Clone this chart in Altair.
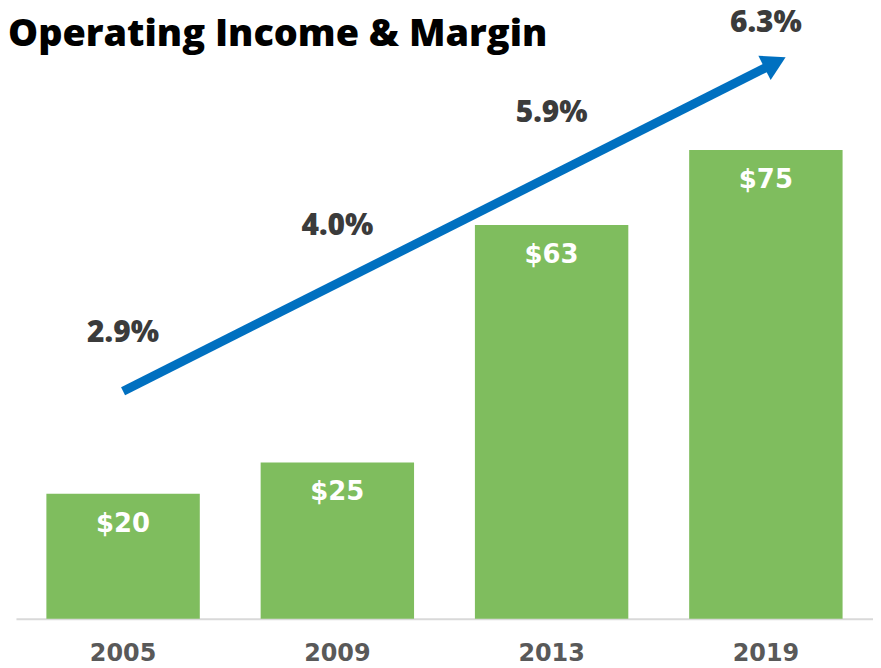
import altair as alt
import pandas as pd

# ---- data ----
years = ["2005", "2009", "2013", "2019"]
income = [20, 25, 63, 75]
income_labels = ["$20", "$25", "$63", "$75"]
margins = ["2.9%", "4.0%", "5.9%", "6.3%"]
margin_label_level = [45.7, 62.9, 81.0, 95.3]   # height (value units) of the margin labels
arrow_years = ["2005", "2019"]                    # trend arrow runs from the first to the last year
arrow_y = [36.4, 88.2]                            # value units
head_year = ["2019"]
head_y = [89.0]
title_text = ["Operating Income & Margin"]

FONT = "Open Sans"
FONT2 = "DejaVu Sans"
BLUE = "#0070C0"
GREEN = "#7FBD5E"

bars_df = pd.DataFrame({"year": years, "income": income, "label": income_labels,
                        "margin": margins, "level": margin_label_level})
arrow_df = pd.DataFrame({"year": arrow_years, "y": arrow_y})
head_df = pd.DataFrame({"year": head_year, "y": head_y})
title_df = pd.DataFrame({"t": title_text})

W, H = 861, 612
yscale = alt.Scale(domain=[0, 97.5], nice=False, zero=True)
band = alt.Scale(domain=years, paddingInner=0.284, paddingOuter=0.142)

x_axis = alt.Axis(title=None, ticks=False, grid=False, domainColor="#d9d9d9", domainWidth=2,
                  labelFont=FONT2, labelFontSize=24, labelFontWeight="bold", labelColor="#595959",
                  labelPadding=35, labelBaseline="middle", labelAngle=0)

base = alt.Chart(bars_df)
bars = base.mark_bar(color=GREEN).encode(
    x=alt.X("year:N", scale=band, axis=x_axis),
    y=alt.Y("income:Q", scale=yscale, axis=None),
)
bar_labels = base.mark_text(color="white", font=FONT2, fontSize=26, fontWeight="bold",
                            baseline="middle", dy=30).encode(
    x=alt.X("year:N"), y=alt.Y("income:Q"), text="label:N")
margin_labels = base.mark_text(color="#3b3b3b", font=FONT, fontSize=30, fontWeight=800,
                               baseline="middle").encode(
    x=alt.X("year:N"), y=alt.Y("level:Q"), text="margin:N")

arrow = alt.Chart(arrow_df).mark_line(color=BLUE, strokeWidth=9, strokeCap="butt").encode(
    x=alt.X("year:N"), y=alt.Y("y:Q"))
head = alt.Chart(head_df).mark_point(shape="triangle-up", filled=True, size=750, angle=63.3,
                                     color=BLUE, opacity=1, strokeWidth=0).encode(
    x=alt.X("year:N", bandPosition=0.56), y=alt.Y("y:Q"))

title = alt.Chart(title_df).mark_text(color="black", font=FONT, fontSize=38, fontWeight=800,
                                      align="left", baseline="alphabetic").encode(
    x=alt.value(-8), y=alt.value(37), text="t:N")

chart = alt.layer(bars, bar_labels, margin_labels, arrow, head, title).properties(
    width=W, height=H,
    padding={"left": 8, "top": 0, "right": 0, "bottom": 48},
    autosize="none",
).configure_view(stroke=None)

chart.save("out.html", embed_options={"renderer": "svg", "actions": False})
